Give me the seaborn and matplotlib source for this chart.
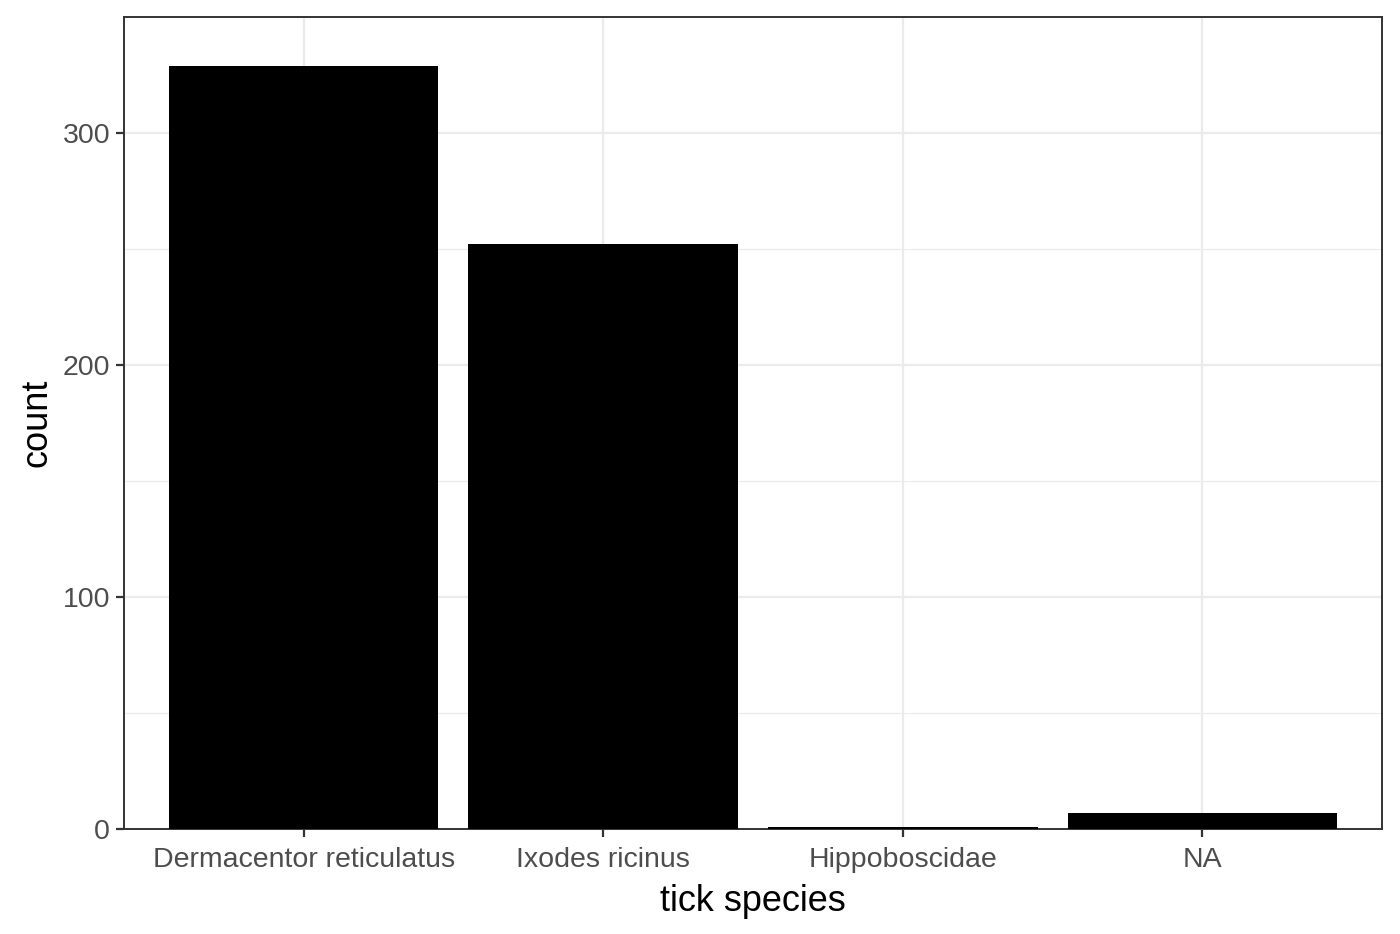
import pandas as pd
import matplotlib.pyplot as plt
import seaborn as sns
from matplotlib.ticker import MultipleLocator

# data
species = ["Dermacentor reticulatus", "Ixodes ricinus", "Hippoboscidae", "NA"]
counts = [329, 252, 1, 7]

df = pd.DataFrame({"tick species": species, "count": counts})

sns.set_style("white")
plt.rcParams["font.family"] = ["Liberation Sans", "DejaVu Sans"]

fig = plt.figure(figsize=(14, 9.34), dpi=100)
ax = fig.add_axes([124 / 1400, 1 - 829 / 934, (1382 - 124) / 1400, (829 - 17) / 934])

sns.barplot(data=df, x="tick species", y="count", color="black", width=0.9,
            saturation=1, linewidth=0, edgecolor="black", ax=ax, zorder=3)

ax.set_xlim(-0.6, len(species) - 0.4)
ax.set_ylim(0, 350)
ax.yaxis.set_major_locator(MultipleLocator(100))
ax.yaxis.set_minor_locator(MultipleLocator(50))

# theme_bw-ish grid
ax.grid(which="major", color="#EBEBEB", linewidth=1.6, zorder=0)
ax.grid(which="minor", axis="y", color="#EBEBEB", linewidth=0.8, zorder=0)
ax.set_axisbelow(True)

for s in ax.spines.values():
    s.set_visible(True)
    s.set_color("#333333")
    s.set_linewidth(1.4)

ax.tick_params(axis="both", which="major", length=6, width=1.6, color="#333333",
               labelsize=20.5, labelcolor="#4D4D4D", pad=4, left=True, bottom=True)
ax.tick_params(axis="x", which="major", pad=7)
ax.tick_params(axis="both", which="minor", length=0)

ax.set_xlabel("tick species", fontsize=26, color="black", labelpad=8)
ax.set_ylabel("count", fontsize=26, color="black", labelpad=6)

fig.savefig("out.png", dpi=100, facecolor="white")
